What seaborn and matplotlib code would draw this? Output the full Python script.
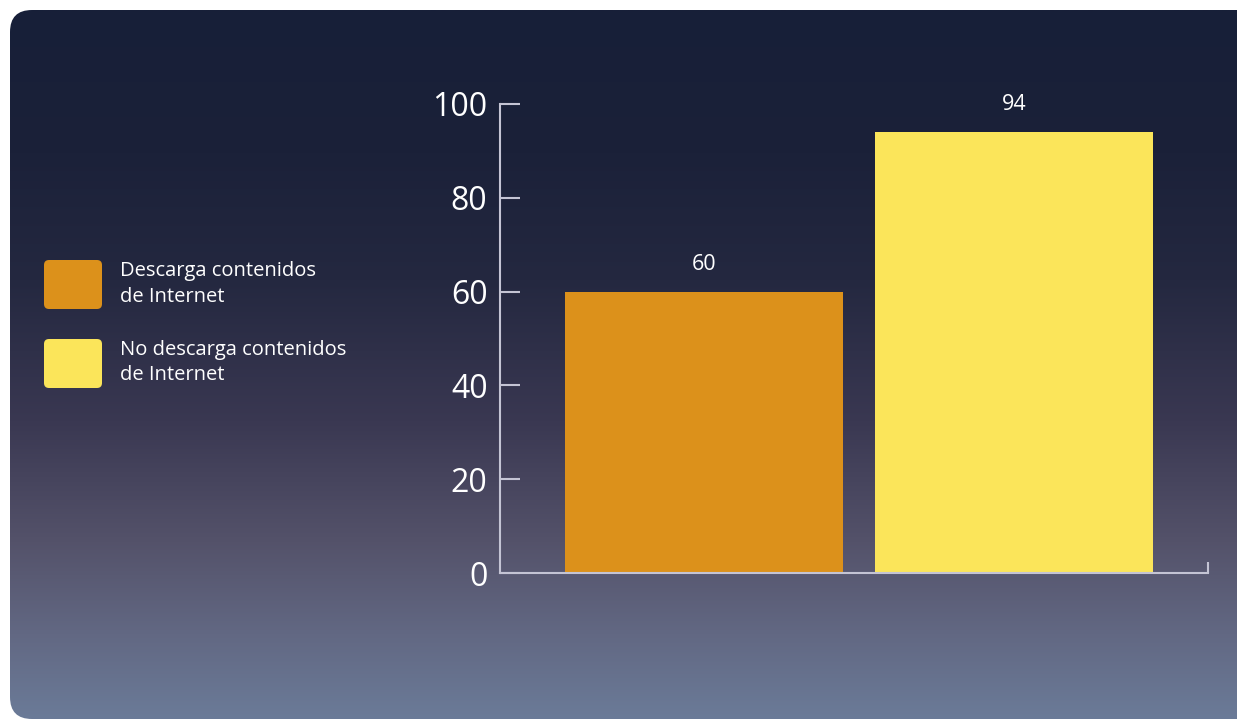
import numpy as np
import pandas as pd
import matplotlib
matplotlib.use("Agg")
import matplotlib.pyplot as plt
import seaborn as sns
from matplotlib.patches import FancyBboxPatch
from matplotlib.colors import LinearSegmentedColormap
from matplotlib.transforms import IdentityTransform

# ---- data ----
categories = ["Descarga contenidos de Internet", "No descarga contenidos de Internet"]
legend_labels = ["Descarga contenidos\nde Internet", "No descarga contenidos\nde Internet"]
values = [60, 94]
colors = ["#dc911b", "#fbe55a"]
yticks = [0, 20, 40, 60, 80, 100]

W, H = 1237, 720
sns.set_theme(style="white")
plt.rcParams["font.family"] = ["Open Sans", "DejaVu Sans"]

fig = plt.figure(figsize=(W / 100, H / 100), dpi=100, facecolor="white")

# ---- gradient background panel ----
bg = fig.add_axes([0, 0, 1, 1], zorder=-5)
bg.set_xlim(0, W)
bg.set_ylim(0, H)
bg.axis("off")
grad_cmap = LinearSegmentedColormap.from_list(
    "bgpanel",
    [(0.0, "#6b7b98"), (0.12, "#626883"), (0.25, "#54526a"), (0.42, "#3a3852"),
     (0.62, "#242840"), (0.8, "#1b2139"), (1.0, "#171f38")])
g = np.linspace(0, 1, 256).reshape(-1, 1)
im = bg.imshow(g, cmap=grad_cmap, aspect="auto", origin="lower",
               extent=(10, W, 0, 710), interpolation="bilinear")
clip = FancyBboxPatch((10, 1), W + 40, 709, boxstyle="round,pad=0,rounding_size=22",
                      transform=bg.transData, facecolor="none", edgecolor="none")
bg.add_patch(clip)
im.set_clip_path(clip)

# ---- main axes ----
ax = fig.add_axes([500 / W, 147 / H, 708 / W, 469 / H])
ax.set_facecolor("none")
df = pd.DataFrame({"cat": categories, "val": values})
sns.barplot(data=df, x="cat", y="val", hue="cat", palette=colors, width=0.897,
            saturation=1, legend=False, ax=ax, edgecolor="none")
xmin, xmax = -0.658, 1.626
ax.set_xlim(xmin, xmax)
ax.set_ylim(0, 100)
ax.set_yticks(yticks)
ax.set_xticks([xmax])
ax.set_xticklabels([""])
ax.set_xlabel("")
ax.set_ylabel("")

axis_col = "#c4c4d4"
for s in ["top", "right"]:
    ax.spines[s].set_visible(False)
for s in ["left", "bottom"]:
    ax.spines[s].set_color(axis_col)
    ax.spines[s].set_linewidth(1.5)
ax.tick_params(axis="y", direction="in", length=14.5, width=1.5, color=axis_col,
               labelcolor="white", labelsize=23, pad=9, left=True)
ax.tick_params(axis="x", direction="in", length=8, width=1.5, color=axis_col, bottom=True)

for cont in ax.containers:
    ax.bar_label(cont, labels=[f"{v:g}" for v in cont.datavalues], padding=12,
                 color="white", fontsize=15.5)

# ---- legend ----
for i, (lab, col) in enumerate(zip(legend_labels, colors)):
    y0 = H - 309 - 79 * i
    p = FancyBboxPatch((44, y0), 58, 49, boxstyle="round,pad=0,rounding_size=5",
                       transform=IdentityTransform(), facecolor=col, edgecolor="none")
    fig.patches.append(p)
    p.set_figure(fig)
    fig.text(120 / W, (y0 + 25.5) / H, lab, color="white", fontsize=14.5,
             va="center", ha="left", linespacing=1.4)

fig.savefig("out.png", dpi=100, facecolor="white")
